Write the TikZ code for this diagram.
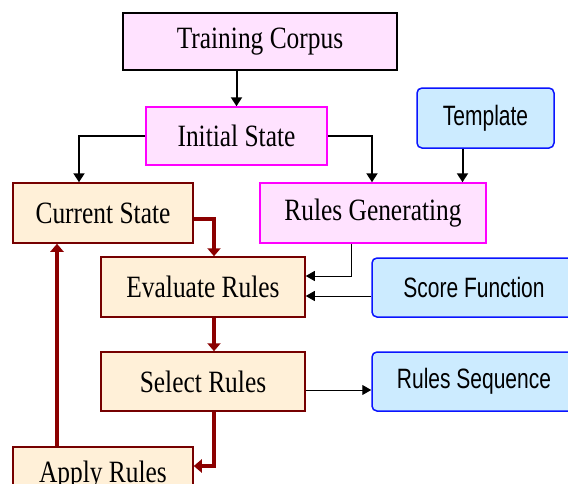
\documentclass[tikz,border=0pt]{standalone}
\usepackage{fontspec}
\usetikzlibrary{arrows.meta}
\newfontfamily\boxserif{Liberation Serif}[FakeStretch=0.82]
\newfontfamily\boxsans{Liberation Sans}[FakeStretch=0.75]
\definecolor{pinkfill}{HTML}{FFE2FF}
\definecolor{magbord}{HTML}{FF00FF}
\definecolor{orfill}{HTML}{FFF0D8}
\definecolor{darkred}{HTML}{8B0000}
\definecolor{bluefill}{HTML}{CCEBFF}
\definecolor{bluebord}{HTML}{0A14FF}
\tikzset{
  box/.style={rectangle, inner sep=0pt, font=\boxserif\fontsize{31}{33}\selectfont},
  pinkbox/.style={box, fill=pinkfill, draw=magbord, line width=1.5pt},
  topbox/.style={box, fill=pinkfill, draw=black, line width=2.2pt},
  orbox/.style={box, fill=orfill, draw=darkred!85!black, line width=1.5pt},
  bluebox/.style={box, fill=bluefill, draw=bluebord, line width=1.5pt, rounded corners=5pt, font=\boxsans\fontsize{28}{30}\selectfont},
  blkarrow/.style={draw=black, line width=2pt, -{Triangle[length=9pt,width=11pt]}},
  thinarrow/.style={draw=black, line width=1pt, -{Triangle[length=9pt,width=10pt]}},
  redarrow/.style={draw=darkred, line width=4.5pt, -{Triangle[length=8pt,width=13pt]}},
}
\begin{document}
\begin{tikzpicture}[x=1pt,y=1pt]
\useasboundingbox[fill=white] (0,0) rectangle (568,-483);
\node[topbox, minimum width=274pt, minimum height=57pt] (tc) at (260,-41.5) {Training Corpus};
\node[pinkbox, minimum width=181pt, minimum height=58pt] (is) at (236.5,-136) {Initial State};
\node[bluebox, minimum width=137pt, minimum height=60pt] (tp) at (485.5,-118) {Template};
\node[orbox, minimum width=180pt, minimum height=60pt] (cs) at (103,-213) {Current State};
\node[pinkbox, minimum width=226pt, minimum height=60pt] (rg) at (373,-213) {Rules Generating};
\node[orbox, minimum width=204pt, minimum height=60pt] (ev) at (203,-287) {Evaluate Rules};
\node[bluebox, minimum width=204pt, minimum height=59pt] (sf) at (474,-287.5) {Score Function};
\node[orbox, minimum width=204pt, minimum height=59pt] (sr) at (203,-381.5) {Select Rules};
\node[bluebox, minimum width=204pt, minimum height=59pt] (rs) at (474,-381.5) {Rules Sequence};
\node[orbox, minimum width=180pt, minimum height=60pt] (ar) at (103,-477) {\raisebox{-5pt}[0pt][0pt]{Apply Rules}};

\draw[blkarrow] (is.north|-tc.south) -- (is.north);
\draw[blkarrow] (is.west) -| ([xshift=-24pt]cs.north);
\draw[blkarrow] (is.east) -| ([xshift=-1pt]rg.north);
\draw[blkarrow] ([xshift=-23pt]tp.south) -- ([xshift=-23pt]tp.south|-rg.north);
\draw[thinarrow] ([xshift=-22pt]rg.south) |- ([yshift=11pt]ev.east);
\draw[thinarrow] ([yshift=-8.5pt]sf.west) -- ([yshift=-9pt]ev.east);
\draw[thinarrow] ([yshift=-8.5pt]sr.east) -- ([yshift=-8.5pt]rs.west);
\draw[redarrow] ([yshift=-6pt]cs.east) -| ([xshift=11pt]ev.north);
\draw[redarrow] ([xshift=11pt]ev.south) -- ([xshift=11pt]sr.north);
\draw[redarrow] ([xshift=11pt]sr.south) |- ([yshift=11pt]ar.east);
\draw[redarrow] ([xshift=-46pt]ar.north) -- ([xshift=-46pt]cs.south);
\end{tikzpicture}
\end{document}
